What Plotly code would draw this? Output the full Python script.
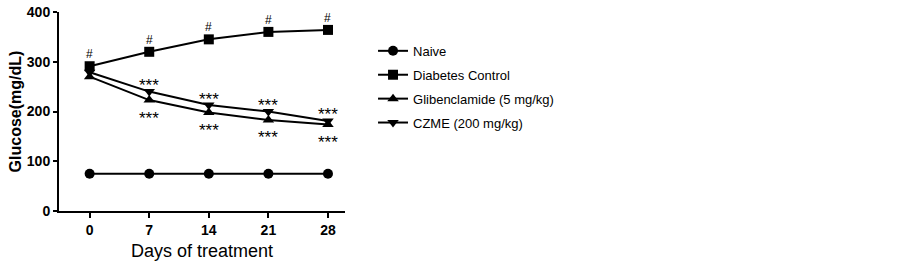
import plotly.graph_objects as go

days = [0, 7, 14, 21, 28]
naive = [75, 75, 75, 75, 75]
diabetes = [291, 320, 345, 360, 364]
glib = [270, 223, 198, 183, 174]
czme = [279, 240, 213, 200, 181]
x_ticks = [0, 7, 14, 21, 28]
y_ticks = [0, 100, 200, 300, 400]

series = [
    ("Naive", naive, "circle", 10),
    ("Diabetes Control", diabetes, "square", 10),
    ("Glibenclamide (5 mg/kg)", glib, "triangle-up", 10),
    ("CZME (200 mg/kg)", czme, "triangle-down", 10),
]

fig = go.Figure()
for i, (name, vals, sym, sz) in enumerate(series):
    fig.add_trace(go.Scatter(
        x=days, y=vals, name=name, mode="lines+markers",
        line=dict(color="black", width=2),
        marker=dict(symbol=sym, size=sz, color="black"),
        legendgroup=str(i),
    ))

ann = []
for d, v in zip(days, diabetes):
    ann.append(dict(x=d, y=v, text="#", yshift=12, font_size=12))
for d, v in zip(days[1:], czme[1:]):
    ann.append(dict(x=d, y=v, text="***", yshift=6, font_size=17))
for d, v in zip(days[1:], glib[1:]):
    ann.append(dict(x=d, y=v, text="***", yshift=-18, font_size=17))
for a in ann:
    a.update(xref="x", yref="y", showarrow=False)
    a["font"] = dict(family="Liberation Sans, Arial", size=a.pop("font_size"), color="black")

fig.update_layout(
    width=902, height=267,
    margin=dict(l=59, r=557, t=12, b=56),
    paper_bgcolor="white", plot_bgcolor="white",
    font=dict(family="Liberation Sans, Arial", color="black"),
    annotations=ann,
    showlegend=True,
    legend=dict(x=1.098, y=0.88, xanchor="left", yanchor="top",
                font=dict(size=13, family="Liberation Sans, Arial"),
                tracegroupgap=4, bgcolor="rgba(0,0,0,0)"),
    xaxis=dict(range=[-3.6, 30], tickvals=x_ticks, ticktext=["<b>%d</b>" % t for t in x_ticks],
               showline=True, linecolor="black", linewidth=2, ticks="outside",
               ticklen=5, tickwidth=2, tickcolor="black", showgrid=False, zeroline=False,
               automargin=False,
               tickfont=dict(size=14, family="Liberation Sans, Arial"),
               title=dict(text="Days of treatment", font=dict(size=18), standoff=8)),
    yaxis=dict(range=[0, 400], tickvals=y_ticks, ticktext=["<b>%d</b>" % t for t in y_ticks],
               showline=True, linecolor="black", linewidth=2, ticks="outside",
               ticklen=4, tickwidth=2, tickcolor="black", showgrid=False, zeroline=False,
               automargin=False, ticklabeloverflow="allow",
               tickfont=dict(size=14, family="Liberation Sans, Arial"),
               title=dict(text="<b>Glucose(mg/dL)</b>", font=dict(size=16), standoff=1)),
)
fig.write_html("out.html", config={"displayModeBar": False},
               post_script="document.body.style.margin='0';document.body.style.overflow='hidden';")
